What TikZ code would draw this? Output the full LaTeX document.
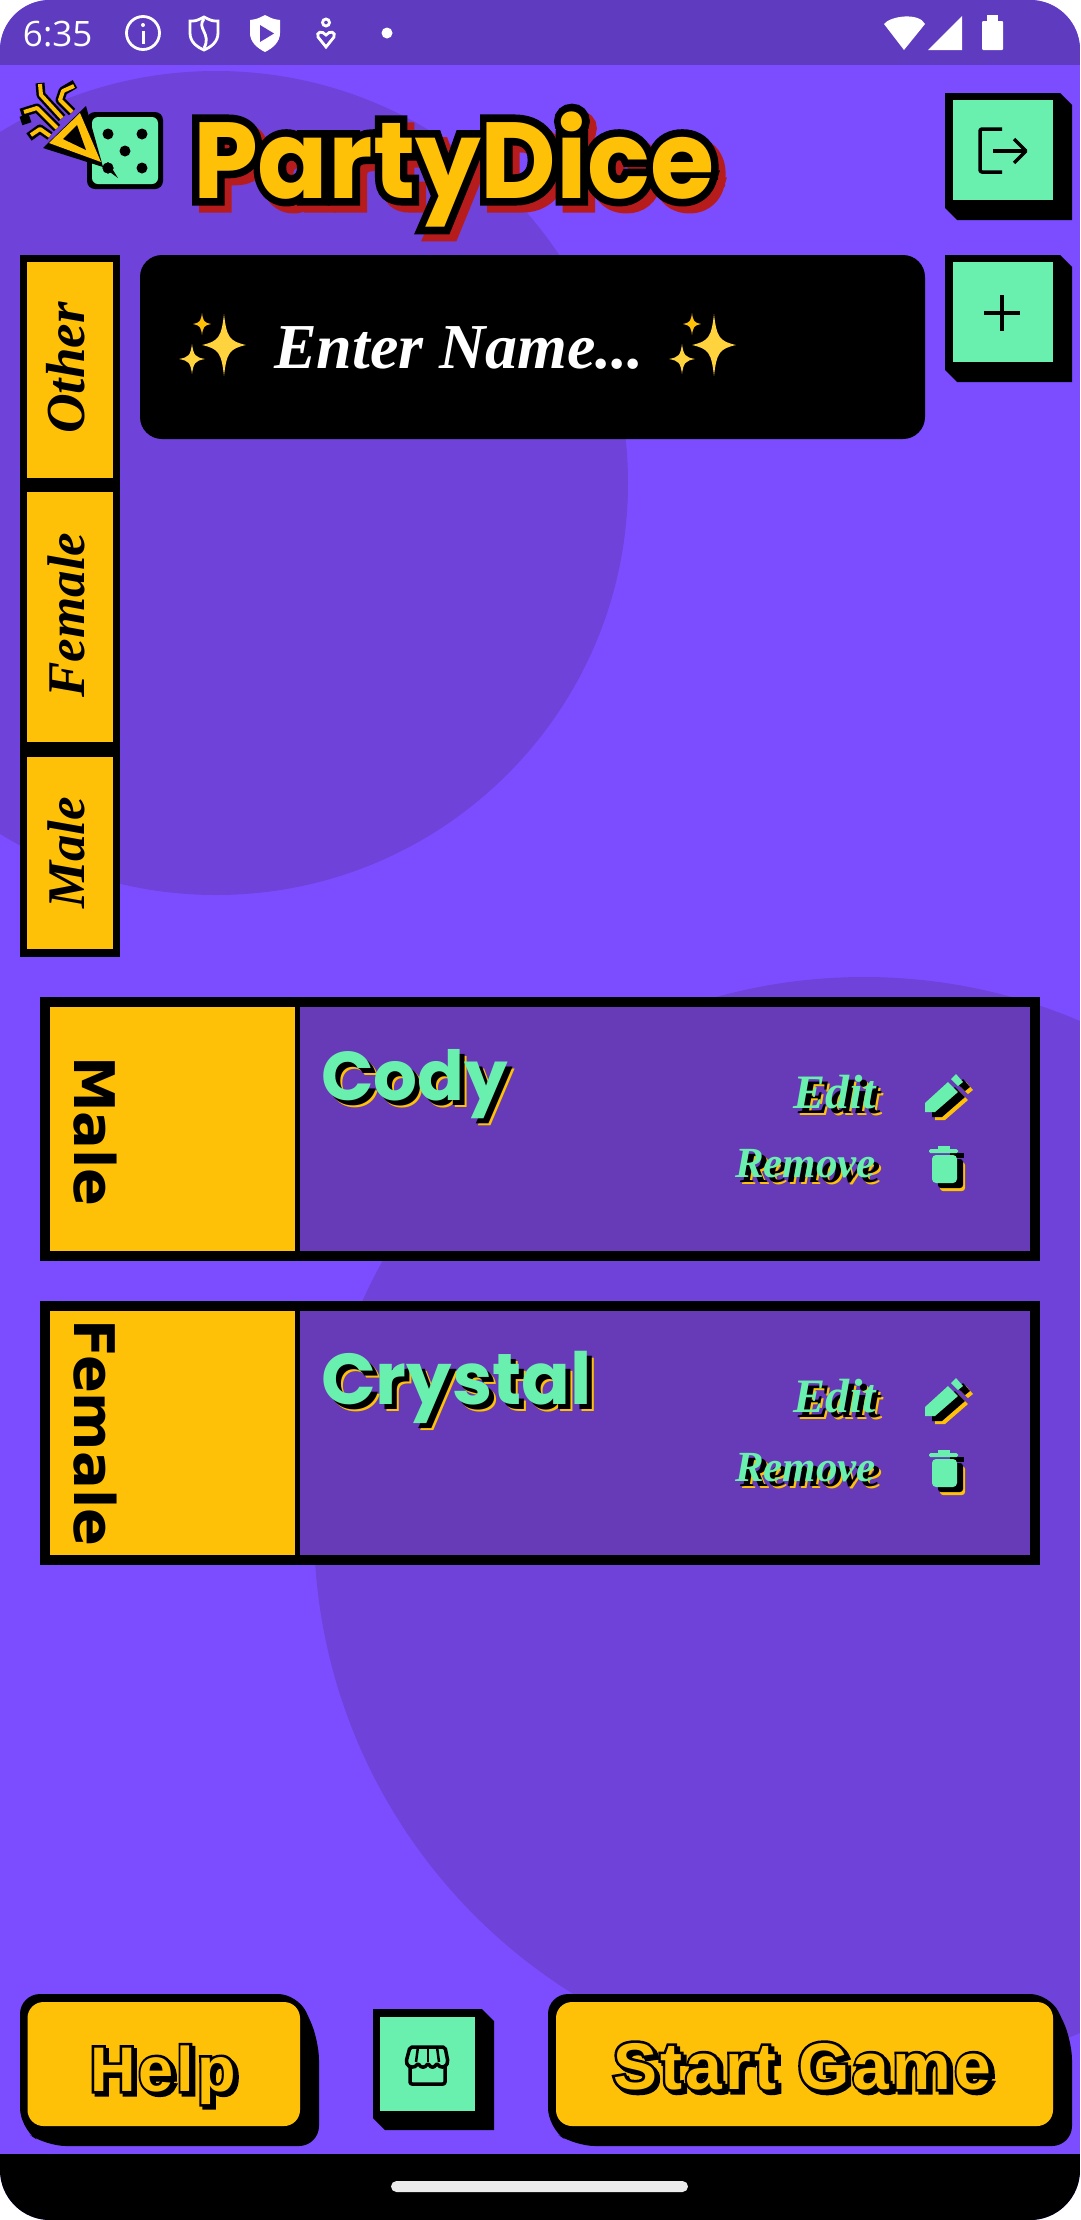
\documentclass[tikz,border=0pt]{standalone}
\usepackage{fontspec}
\usepackage{graphicx}
\setmainfont{Liberation Sans}
\newfontfamily\scrf[BoldItalicFont=*/BI]{Liberation Serif}
\newfontfamily\poppf{Poppins}
\newfontfamily\poppo[BoldFeatures={FakeBold=14}]{Poppins}
\newfontfamily\heavyf{DejaVu Sans}
\newfontfamily\helpf[LetterSpace=5]{Liberation Sans}
\newfontfamily\helpo[LetterSpace=5,FakeBold=8]{Liberation Sans}
\newfontfamily\statf{Open Sans}
\definecolor{bgp}{HTML}{7C4DFF}
\definecolor{circp}{HTML}{6F42D9}
\definecolor{barp}{HTML}{5E3BBF}
\definecolor{cardp}{HTML}{673AB7}
\definecolor{yel}{HTML}{FFC107}
\definecolor{mint}{HTML}{69F0AE}
\definecolor{redsh}{HTML}{B71C1C}
\definecolor{spark}{HTML}{FFD33D}
\tikzset{
  txt/.style={inner sep=0pt,outer sep=0pt,anchor=base west},
  streamblack/.style={draw=black,line width=9pt,line cap=butt,line join=round},
  streamyel/.style={draw=yel,line width=4pt,line cap=butt,line join=round},
  iconline/.style={draw=black,line width=3.5pt,line join=round},
  statline/.style={draw=white,line width=2.8pt},
}
% name, x, y, font commands, text: mint text with black and yellow offset copies
\newcommand{\triotext}[5]{%
  \node[txt,text=yel,font=#4] (#1y) at ({#2+7},{#3+7}) {#5};
  \node[txt,text=black,font=#4] (#1k) at ({#2+5},{#3+5}) {#5};
  \node[txt,text=mint,font=#4] (#1) at (#2,#3) {#5};
}
\newcommand{\sparkleshape}[5][spark]{%
  \fill[#1] (#2,{#3-#5}) .. controls ({#2+0.12*#4},{#3-0.25*#5}) and ({#2+0.25*#4},{#3-0.12*#5}) .. ({#2+#4},#3)
   .. controls ({#2+0.25*#4},{#3+0.12*#5}) and ({#2+0.12*#4},{#3+0.25*#5}) .. (#2,{#3+#5})
   .. controls ({#2-0.12*#4},{#3+0.25*#5}) and ({#2-0.25*#4},{#3+0.12*#5}) .. ({#2-#4},#3)
   .. controls ({#2-0.25*#4},{#3-0.12*#5}) and ({#2-0.12*#4},{#3-0.25*#5}) .. (#2,{#3-#5}) -- cycle;
}
\newcommand{\sparkles}[1]{%
  \sparkleshape{#1}{345}{22}{31}
  \sparkleshape[yel]{\the\numexpr#1-22\relax}{324}{9}{11}
  \sparkleshape{\the\numexpr#1-32\relax}{359}{13}{15}
}
\newcommand{\squarebtn}[5]{% left top right bottom depth
  \fill[black] (#1,#2) -- ({#3},#2) -- ({#3+#5},{#2+#5}) -- ({#3+#5},{#4+#5}) -- ({#1+#5},{#4+#5}) -- (#1,#4) -- cycle;
}
\newcommand{\cardicons}[1]{%
 \begin{scope}[yshift=-#1pt]
  \foreach \dx/\dy/\cc in {10/8/yel,7/5/black,0/0/mint}{
   \begin{scope}[shift={(\dx,\dy)}]
    \fill[\cc] (925,1103) -- (948,1082) -- (958,1092) -- (935,1112) -- (925,1112) -- cycle;
    \fill[\cc] (951,1079) -- (956,1074) -- (963,1082) -- (958,1086) -- cycle;
   \end{scope}
  }
  \foreach \dx/\dy/\cc in {8/8/yel,6/5/black}{
   \fill[\cc,rounded corners=3pt] ({932+\dx},{1154+\dy}) rectangle ({957+\dx},{1183+\dy});
  }
  \fill[black] (950,1153) rectangle (964,1158);
  \fill[mint,rounded corners=1.5pt] (929,1149) rectangle (958,1153);
  \fill[mint] (938,1146) rectangle (950,1149);
  \fill[mint,rounded corners=4pt] (932,1155) -- (957,1155) -- (957,1183) -- (932,1183) -- cycle;
 \end{scope}
}
\begin{document}
\begin{tikzpicture}[x=1pt,y=-1pt]
\useasboundingbox (0,0) rectangle (1080,2220);
\fill[white] (0,0) rectangle (1080,2220);
\begin{scope}
\clip[rounded corners=50pt] (0,0) rectangle (1080,2220);
\fill[bgp] (0,0) rectangle (1080,2220);
\fill[circp] (216,483) circle (412);
\fill[circp] (864,1527) circle (550);
\fill[barp] (0,0) rectangle (1080,65);
\fill[black] (0,2154) rectangle (1080,2220);
\end{scope}
\fill[black!8!white,rounded corners=5.5pt] (391,2181) rectangle (688,2192);

% status bar
\node[txt,text=white,font=\statf\fontsize{35}{40}\selectfont] (clock) at (23,46) {6:35};
\draw[statline] (143,33) circle (16.5);
\fill[white] (141.5,31) rectangle (144.5,44);
\fill[white] (143,25) circle (2);
\draw[statline] (204,17) .. controls (212,21) .. (218,21) -- (218,33) .. controls (218,42) and (211,47) .. (204,50) .. controls (197,47) and (190,42) .. (190,33) -- (190,21) .. controls (196,21) .. (204,17) -- cycle;
\draw[statline] (204,19) .. controls (196,28) and (212,34) .. (204,48);
\fill[white] (265,15) .. controls (273,19) .. (280,20) -- (280,33) .. controls (280,42) and (273,48) .. (265,52) .. controls (257,48) and (250,42) .. (250,33) -- (250,20) .. controls (257,19) .. (265,15) -- cycle;
\fill[barp] (260,25) -- (274,33.5) -- (260,42) -- cycle;
\draw[statline] (326,22.5) circle (3.5);
\draw[statline] (326,47) -- (318,37) .. controls (316,32) and (322,30) .. (326,35) .. controls (330,30) and (336,32) .. (334,37) -- cycle;
\fill[white] (387,33) circle (5.5);
\fill[white] (884,24) .. controls (890,16) and (919,12) .. (925,24) -- (904,50) -- cycle;
\fill[white] (928,50) -- (962,50) -- (962,16) -- cycle;
\fill[white] (987,15) rectangle (998,21);
\fill[white,rounded corners=1pt] (982,21) rectangle (1003,50);

% logo
\fill[black,rounded corners=8pt] (87,112) rectangle (163,189);
\fill[mint,rounded corners=6pt] (92,117) rectangle (158,184);
\foreach \px/\py in {108/134,142/134,125/151,108/168,142/168}{\fill[black] (\px,\py) circle (5.5);}
\draw[streamblack] (40,83) -- (41,95) -- (62,118);
\draw[streamblack] (75,84) -- (63,91) -- (60,100) -- (72,112);
\draw[streamblack] (21,113) -- (37,108) -- (57,128);
\draw[streamblack] (21,121) -- (30,118);
\draw[streamblack] (29,137) -- (40,129) -- (50,136);
\draw[streamyel] (40,84) -- (41,95) -- (62,118);
\draw[streamyel] (74,86) -- (63,91) -- (60,100) -- (72,112);
\draw[streamyel] (24,112) -- (37,108) -- (57,128);
\draw[streamyel] (31,135) -- (40,129) -- (50,136);
\fill[black] (86,106) -- (43,148) -- (103,167) -- cycle;
\fill[yel] (80,113) -- (49,143) -- (101,162) -- cycle;
\fill[black] (77,125) -- (63,139) -- (86,150) -- cycle;
\fill[black] (103,167) -- (118,178) -- (108,162) -- cycle;
\fill[black] (108,168) circle (5.5);

% title
\node[txt,text=redsh,font=\poppo\bfseries\fontsize{104}{110}\selectfont] (titlered) at (200,205) {\scalebox{1}[1.04]{PartyDice}};
\node[txt,text=black,font=\poppo\bfseries\fontsize{104}{110}\selectfont] (titleblack) at (193,198) {\scalebox{1}[1.04]{PartyDice}};
\node[txt,text=yel,font=\poppf\bfseries\fontsize{104}{110}\selectfont] (title) at (193,198) {\scalebox{1}[1.04]{PartyDice}};

% logout button
\squarebtn{945}{93}{1060}{208}{12}
\fill[mint] (952.5,100) rectangle (1053,200);
\draw[iconline,rounded corners=2pt] (1002,129) -- (980,129) -- (980,172) -- (1002,172);
\draw[iconline] (993,151) -- (1025,151);
\draw[iconline] (1014,139) -- (1026,151) -- (1014,163);

% plus button
\squarebtn{945}{255}{1060}{370}{12}
\fill[mint] (952.5,262) rectangle (1053,362);
\draw[black,line width=3.2pt] (1002,295) -- (1002,331);
\draw[black,line width=3.2pt] (984,313) -- (1020,313);

% gender tabs
\fill[black] (20,255) rectangle (120,957);
\fill[yel] (27,262) rectangle (113,478);
\fill[yel] (27,492) rectangle (113,742);
\fill[yel] (27,757) rectangle (113,949);
\node[txt,anchor=center,rotate=90,font=\scrf\bfseries\itshape\fontsize{55}{60}\selectfont] (tabother) at (66,368) {Other};
\node[txt,anchor=center,rotate=90,font=\scrf\bfseries\itshape\fontsize{53}{60}\selectfont] (tabfemale) at (66,615) {Female};
\node[txt,anchor=center,rotate=90,font=\scrf\bfseries\itshape\fontsize{53}{60}\selectfont] (tabmale) at (66,853) {Male};

% name input
\fill[black,rounded corners=22pt] (140,255) rectangle (925,439);
\sparkles{224}
\sparkles{714}
\node[txt,text=white,font=\scrf\bfseries\itshape\fontsize{64}{80}\selectfont] (nameentry) at (274,368) {Enter Name...};

% first card
\fill[black] (40,997) rectangle (1040,1261);
\fill[yel] (50,1007) rectangle (295,1251);
\fill[cardp] (300,1007) rectangle (1030,1251);
\node[txt,rotate=-90,font=\heavyf\bfseries\fontsize{56}{60}\selectfont] (genderone) at (74,1056) {Male};
\triotext{nameone}{321}{1100}{\poppf\bfseries\fontsize{69}{80}\selectfont}{Cody}
\triotext{editone}{793}{1108}{\scrf\bfseries\itshape\fontsize{48}{56}\selectfont}{Edit}
\triotext{removeone}{735}{1177}{\scrf\bfseries\itshape\fontsize{43}{56}\selectfont}{Remove}
\cardicons{0}

% second card
\fill[black] (40,1301) rectangle (1040,1565);
\fill[yel] (50,1311) rectangle (295,1555);
\fill[cardp] (300,1311) rectangle (1030,1555);
\node[txt,rotate=-90,font=\heavyf\bfseries\fontsize{56}{60}\selectfont] (gendertwo) at (74,1319) {Female};
\triotext{nametwo}{321}{1404}{\poppf\bfseries\fontsize{72}{80}\selectfont}{Crystal}
\triotext{edittwo}{793}{1412}{\scrf\bfseries\itshape\fontsize{48}{56}\selectfont}{Edit}
\triotext{removetwo}{735}{1481}{\scrf\bfseries\itshape\fontsize{43}{56}\selectfont}{Remove}
\cardicons{304}

% help button
\fill[black,rounded corners=20pt] (20,1994) -- (298,1994) -- (319,2040) -- (319,2146) -- (46,2146) -- (20,2128) -- cycle;
\fill[yel,rounded corners=16pt] (27.5,2002) rectangle (300,2126);
\node[txt,text=black,font=\helpo\bfseries\fontsize{63}{70}\selectfont] (helpshadow) at (93,2094) {Help};
\node[txt,text=black,font=\helpo\bfseries\fontsize{63}{70}\selectfont] (helpoutline) at (90,2091) {Help};
\node[txt,text=yel,font=\helpf\bfseries\fontsize{63}{70}\selectfont] (help) at (90,2091) {Help};

% shop button
\squarebtn{373}{2009}{482}{2118}{12}
\fill[mint] (380,2017) rectangle (475,2111);
\fill[mint] (410,2066) rectangle (445,2083);
\draw[iconline,rounded corners=2pt] (410,2066) -- (410,2084) -- (445,2084) -- (445,2066);
\draw[iconline,rounded corners=2pt] (410,2047) -- (445,2047) -- (448,2062) .. controls (445,2068) and (440,2068) .. (437,2063) .. controls (434,2068) and (431,2068) .. (428,2063) .. controls (425,2068) and (421,2068) .. (418,2063) .. controls (415,2068) and (409,2068) .. (406,2062) -- cycle;
\draw[black,line width=2.5pt] (418,2047) -- (416,2062);
\draw[black,line width=2.5pt] (428,2047) -- (428,2062);
\draw[black,line width=2.5pt] (437,2047) -- (439,2062);

% start game button
\fill[black,rounded corners=20pt] (548,1994) -- (1050,1994) -- (1072,2040) -- (1072,2146) -- (575,2146) -- (548,2128) -- cycle;
\fill[yel,rounded corners=16pt] (556,2002) rectangle (1053,2126);
\node[txt,text=black,font=\helpo\bfseries\fontsize{66}{70}\selectfont] (startshadow) at (616,2092) {Start Game};
\node[txt,text=black,font=\helpo\bfseries\fontsize{66}{70}\selectfont] (startoutline) at (613,2089) {Start Game};
\node[txt,text=yel,font=\helpf\bfseries\fontsize{66}{70}\selectfont] (start) at (613,2089) {Start Game};
\end{tikzpicture}
\end{document}
